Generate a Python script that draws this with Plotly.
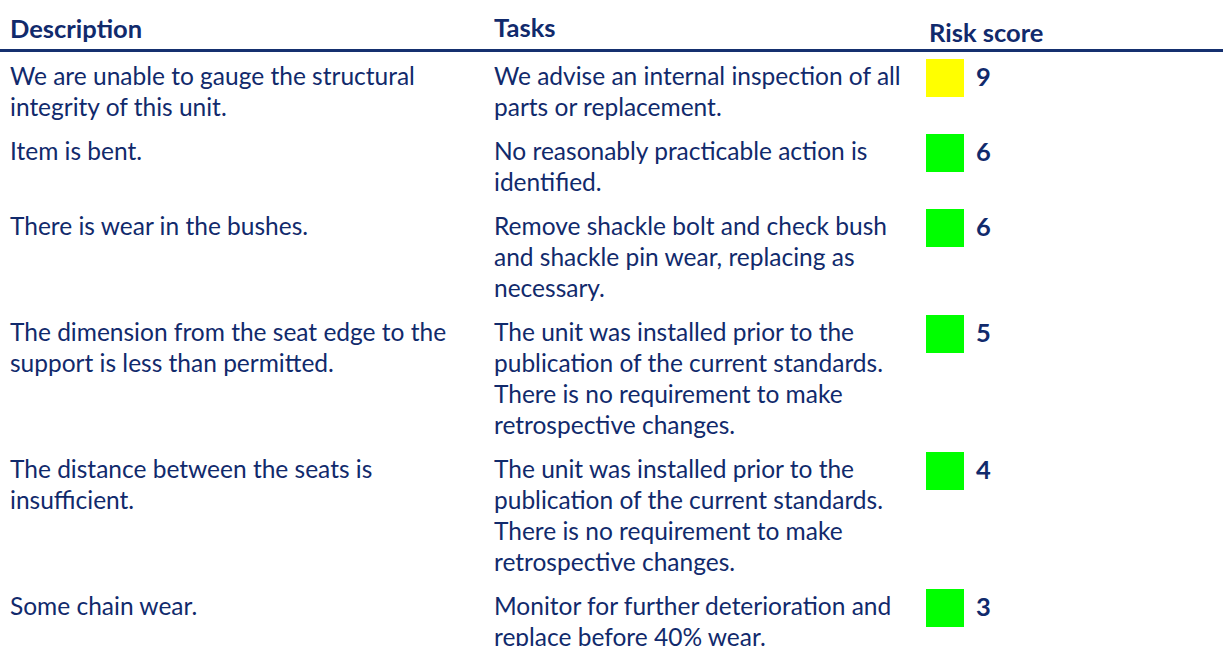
import plotly.graph_objects as go

# ---- data ----
headers = ["Description", "Tasks", "Risk score"]
descriptions = [
    "We are unable to gauge the structural\nintegrity of this unit.",
    "Item is bent.",
    "There is wear in the bushes.",
    "The dimension from the seat edge to the\nsupport is less than permitted.",
    "The distance between the seats is\ninsufficient.",
    "Some chain wear.",
]
tasks = [
    "We advise an internal inspection of all\nparts or replacement.",
    "No reasonably practicable action is\nidentified.",
    "Remove shackle bolt and check bush\nand shackle pin wear, replacing as\nnecessary.",
    "The unit was installed prior to the\npublication of the current standards.\nThere is no requirement to make\nretrospective changes.",
    "The unit was installed prior to the\npublication of the current standards.\nThere is no requirement to make\nretrospective changes.",
    "Monitor for further deterioration and\nreplace before 40% wear.",
]
risk_scores = [9, 6, 6, 5, 4, 3]

# ---- style / layout constants ----
W, H = 1223, 646
TEXT = "#112a6c"
FONT = "Lato"
FS = 24.5
FSB = 25.5
LINE = 31
PAD = 13
FIRST_TOP = 59
X_DESC, X_TASK, X_SQ, X_NUM = 10, 494, 945, 976
SQ = 38
MID = 0.35 * FS
MIDB = 0.35 * FSB

def risk_color(s):
    return "#ffff00" if s >= 7 else "#00ff00"

fig = go.Figure()

# row geometry
tops = []
t = FIRST_TOP
for d, k in zip(descriptions, tasks):
    tops.append(t)
    n = max(len(d.split("\n")), len(k.split("\n")))
    t += PAD + LINE * n

# text lines
xs, ys, txt = [], [], []
for top, d, k in zip(tops, descriptions, tasks):
    for col_x, s in ((X_DESC, d), (X_TASK, k)):
        for i, line in enumerate(s.split("\n")):
            xs.append(col_x)
            ys.append(top + 28 + i * LINE - MID)
            txt.append(line)
fig.add_trace(go.Scatter(x=xs, y=ys, text=txt, mode="text", textposition="middle right",
                         textfont=dict(family=FONT, size=FS, color=TEXT),
                         hoverinfo="skip", showlegend=False, cliponaxis=False))

# headers
fig.add_trace(go.Scatter(x=[X_DESC, X_TASK, 929], y=[41 - MIDB, 40 - MIDB, 45 - MIDB], text=headers,
                         mode="text", textposition="middle right",
                         textfont=dict(family=FONT, size=FSB, color=TEXT, weight="bold"),
                         hoverinfo="skip", showlegend=False, cliponaxis=False))

# risk squares
fig.add_trace(go.Scatter(x=[X_SQ] * len(risk_scores), y=[tp + SQ / 2 for tp in tops], mode="markers",
                         marker=dict(symbol="square", size=SQ, color=[risk_color(s) for s in risk_scores],
                                     line=dict(width=0)),
                         hoverinfo="skip", showlegend=False, cliponaxis=False))

# risk numbers
fig.add_trace(go.Scatter(x=[X_NUM] * len(risk_scores), y=[tp + SQ / 2 + 2 for tp in tops],
                         text=[str(s) for s in risk_scores], mode="text", textposition="middle right",
                         textfont=dict(family=FONT, size=FSB, color=TEXT, weight="bold"),
                         hoverinfo="skip", showlegend=False, cliponaxis=False))

fig.add_shape(type="line", xref="x", yref="y", x0=0, x1=W, y0=50.5, y1=50.5,
              line=dict(color="#15306f", width=3))

fig.update_layout(width=W, height=H, margin=dict(l=0, r=0, t=0, b=0),
                  paper_bgcolor="white", plot_bgcolor="white",
                  xaxis=dict(range=[0, W], visible=False, fixedrange=True),
                  yaxis=dict(range=[H, 0], visible=False, fixedrange=True))

fig.write_html("out.html", config={"displayModeBar": False},
               post_script="document.body.style.margin='0';document.body.style.overflow='hidden';")
